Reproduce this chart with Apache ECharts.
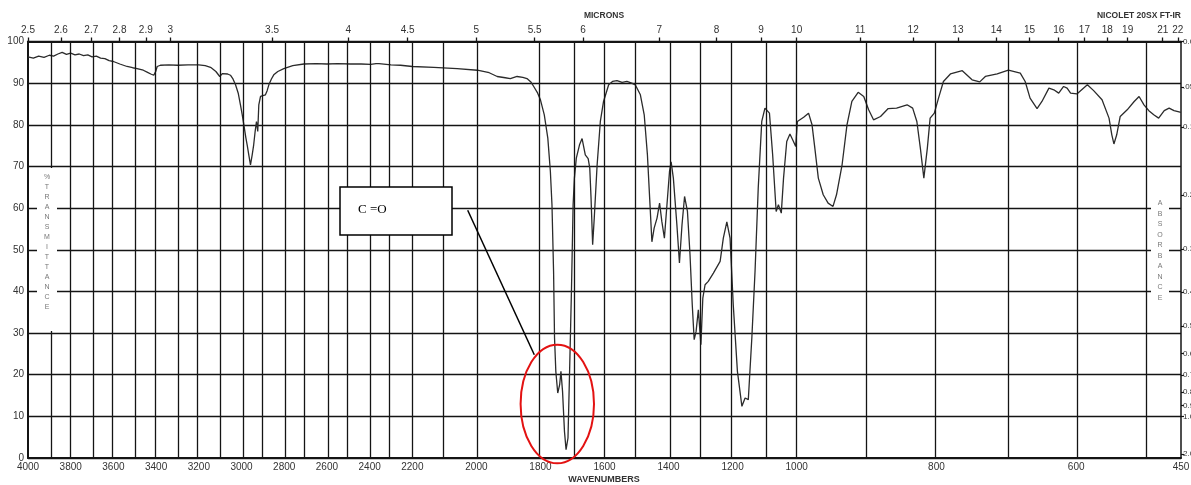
<!DOCTYPE html>
<html>
<head>
<meta charset="utf-8">
<script src="https://cdn.jsdelivr.net/npm/echarts@6/dist/echarts.min.js"></script>
<style>
  html, body { margin: 0; padding: 0; background: #fff; }
  #chart { width: 1191px; height: 485px; }
</style>
</head>
<body>
<div id="chart"></div>
<script>
// IR spectrum: wavenumber (cm-1) and % transmittance
const wavenumbers = [
  4000, 3975, 3950, 3925, 3900, 3880, 3860, 3840, 3820, 3800, 3780, 3760, 3740, 3720, 3700, 3680, 3660, 3640, 3620, 3600,
  3570, 3536, 3510, 3489, 3460, 3440, 3425, 3411, 3402, 3395, 3380, 3340, 3300, 3250, 3200, 3170, 3145, 3120, 3102, 3090,
  3083, 3065, 3052, 3040, 3028, 3015, 3005, 2997, 2989, 2980, 2973, 2965, 2958, 2950, 2943, 2936, 2930, 2924, 2919, 2911,
  2900, 2888, 2880, 2872, 2860, 2849, 2830, 2802, 2760, 2708, 2650, 2600, 2550, 2489, 2440, 2395, 2370, 2364, 2356, 2349,
  2300, 2255, 2200, 2133, 2060, 1997, 1960, 1935, 1910, 1894, 1873, 1855, 1842, 1830, 1821, 1810, 1800, 1788, 1777, 1769,
  1764, 1759, 1756, 1752, 1746, 1740, 1736, 1731, 1725, 1720, 1714, 1709, 1703, 1698, 1694, 1688, 1678, 1670, 1660, 1651,
  1646, 1642, 1637, 1632, 1623, 1613, 1603, 1587, 1575, 1561, 1545, 1530, 1515, 1504, 1488, 1476, 1466, 1459, 1452, 1445,
  1436, 1428, 1421, 1413, 1405, 1397, 1392, 1385, 1374, 1366, 1358, 1350, 1341, 1333, 1326, 1320, 1314, 1307, 1299, 1293,
  1286, 1276, 1260, 1239, 1229, 1218, 1208, 1198, 1185, 1171, 1161, 1151, 1140, 1130, 1120, 1109, 1099, 1085, 1075, 1064,
  1057, 1048, 1041, 1031, 1021, 1010, 1003, 999, 990, 983, 978, 974, 969, 962, 955, 948, 943, 935, 928, 921,
  912, 904, 897, 890, 880, 869, 857, 842, 834, 828, 823, 818, 813, 809, 803, 797, 790, 780, 763, 749,
  738, 730, 713, 697, 680, 673, 666, 656, 649, 639, 632, 625, 618, 613, 608, 599, 584, 575, 563, 553,
  549, 546, 542, 537, 527, 517, 510, 503, 496, 489, 482, 474, 467, 460, 450
];
const transmittance = [
  96.3, 96.0, 96.5, 96.2, 96.7, 96.5, 97.0, 97.4, 96.9, 97.2, 96.8, 97.0, 96.6, 96.8, 96.3, 96.5, 96.0, 95.9, 95.4, 95.2,
  94.6, 94.0, 93.7, 93.5, 93.1, 92.6, 92.2, 91.9, 92.8, 94.0, 94.3, 94.4, 94.3, 94.4, 94.4, 94.2, 93.8, 92.8, 91.6, 92.3,
  92.4, 92.2, 91.9, 91.0, 89.6, 87.5, 84.8, 82.5, 80.0, 77.0, 75.0, 72.5, 70.4, 72.8, 75.2, 78.5, 80.8, 78.4, 84.8, 86.8,
  87.0, 87.2, 88.2, 89.6, 91.0, 92.0, 92.8, 93.5, 94.2, 94.6, 94.7, 94.6, 94.7, 94.6, 94.6, 94.5, 94.7, 95.1, 94.7, 94.4,
  94.4, 94.3, 94.0, 93.8, 93.5, 93.1, 92.5, 91.6, 91.3, 91.1, 91.6, 91.4, 91.1, 90.3, 89.2, 87.8, 86.0, 82.4, 76.8, 68.8,
  60.8, 44.8, 28.8, 20.8, 15.6, 17.6, 20.8, 16.0, 6.4, 2.0, 4.8, 20.8, 40.8, 60.8, 67.2, 72.0, 75.2, 76.7, 72.8, 71.9,
  69.6, 62.4, 51.2, 57.6, 70.4, 80.8, 85.6, 89.6, 90.4, 90.6, 90.2, 90.4, 90.0, 89.6, 87.2, 82.4, 72.8, 62.4, 51.9, 55.2,
  57.6, 61.2, 56.8, 52.8, 60.8, 68.8, 71.1, 67.2, 56.0, 46.8, 56.0, 62.8, 59.2, 48.8, 36.8, 28.4, 30.4, 35.6, 27.2, 38.4,
  41.6, 42.4, 44.4, 47.2, 52.8, 56.7, 52.8, 36.8, 20.8, 12.4, 14.4, 14.0, 28.8, 44.8, 64.8, 80.8, 84.0, 82.8, 72.8, 59.2,
  60.8, 58.8, 67.2, 76.0, 77.8, 76.0, 74.8, 80.8, 81.8, 82.8, 80.0, 74.4, 67.2, 63.2, 61.2, 60.4, 63.2, 70.4, 80.0, 85.6,
  87.8, 86.8, 83.6, 81.2, 82.0, 83.9, 84.0, 84.8, 84.0, 80.8, 74.4, 67.2, 74.4, 81.6, 82.8, 86.4, 90.4, 92.2, 93.0, 90.8,
  90.3, 91.6, 92.2, 93.1, 92.4, 90.4, 86.4, 83.9, 85.6, 88.8, 88.4, 87.6, 89.2, 88.8, 87.6, 87.4, 89.6, 88.2, 86.0, 81.6,
  77.6, 75.4, 77.6, 82.0, 83.6, 85.6, 86.8, 84.8, 83.4, 82.4, 81.6, 83.4, 84.0, 83.4, 83.0
];

// Axis tick values
const wavenumberLabels = [4000, 3800, 3600, 3400, 3200, 3000, 2800, 2600, 2400, 2200, 2000, 1800, 1600, 1400, 1200, 1000, 800, 600, 450];
const gridWavenumbers = [
  3900, 3800, 3700, 3600, 3500, 3400, 3300, 3200, 3100, 3000, 2900, 2800, 2700, 2600, 2500, 2400, 2300, 2200,
  2100, 2000, 1800, 1700, 1600, 1500, 1400, 1300, 1200, 1100, 1000, 900, 800, 700, 600, 500
];
const micronTicks = [2.5, 2.6, 2.7, 2.8, 2.9, 3, 3.5, 4, 4.5, 5, 5.5, 6, 7, 8, 9, 10, 11, 12, 13, 14, 15, 16, 17, 18, 19, 21, 22];
const absorbanceTicks = [0, 0.05, 0.1, 0.2, 0.3, 0.4, 0.5, 0.6, 0.7, 0.8, 0.9, 1.0, 2.0];
const absorbanceLabels = ['0.0', '.05', '0.1', '0.2', '0.3', '0.4', '0.5', '0.6', '0.7', '0.8', '0.9', '1.0', '2.0'];

// Piecewise-linear wavenumber scale: 4000-2200, 2200-1000 and 1000-450 each fill one third of the width
const SEGMENTS = [[4000, 2200], [2200, 1000], [1000, 450]];
function toAxis(wn) {
  for (let i = 0; i < SEGMENTS.length; i++) {
    const [hi, lo] = SEGMENTS[i];
    if (wn >= lo || i === SEGMENTS.length - 1) return i + (hi - wn) / (hi - lo);
  }
}
const absToT = a => 100 * Math.pow(10, -a);
function nearestIndex(list, value, map) {
  let best = 0, dist = Infinity;
  list.forEach((v, i) => { const d = Math.abs(map(v) - value); if (d < dist) { dist = d; best = i; } });
  return best;
}

const FONT = '"Liberation Sans", Arial, sans-serif';
const INK = '#141414';
const TEXT = '#333';

const chart = echarts.init(document.getElementById('chart'), null, { renderer: 'canvas' });

const option = {
  animation: false,
  backgroundColor: '#fff',
  grid: { left: 28, top: 41.5, width: 1153, height: 416.5, show: false, containLabel: false, outerBoundsMode: 'none' },
  xAxis: [
    {
      type: 'value', position: 'bottom', min: 0, max: 3,
      axisLine: { show: true, onZero: false, lineStyle: { color: INK, width: 2 } },
      axisTick: { show: false },
      splitLine: { show: false },
      axisLabel: {
        customValues: wavenumberLabels.map(toAxis),
        formatter: v => String(wavenumberLabels[nearestIndex(wavenumberLabels, v, toAxis)]),
        color: TEXT, fontSize: 10, fontFamily: FONT, margin: 4, hideOverlap: false
      }
    },
    {
      type: 'value', position: 'top', min: 0, max: 3,
      axisLine: { show: true, onZero: false, lineStyle: { color: INK, width: 2 } },
      axisTick: {
        show: true, inside: false, length: 4,
        customValues: micronTicks.map(m => toAxis(10000 / m)),
        lineStyle: { color: INK, width: 1.3 }
      },
      splitLine: { show: false },
      axisLabel: {
        customValues: micronTicks.map(m => toAxis(10000 / m)),
        formatter: v => String(micronTicks[nearestIndex(micronTicks, v, m => toAxis(10000 / m))]),
        color: TEXT, fontSize: 10, fontFamily: FONT, margin: 6, hideOverlap: false
      }
    }
  ],
  yAxis: [
    {
      type: 'value', min: 0, max: 100, interval: 10,
      axisLine: { show: true, onZero: false, lineStyle: { color: INK, width: 2 } },
      axisTick: { show: false },
      splitLine: { show: true, lineStyle: { color: INK, width: 1.3 } },
      axisLabel: { color: TEXT, fontSize: 10, fontFamily: FONT, margin: 4 }
    },
    {
      type: 'value', position: 'right', min: 0, max: 100,
      axisLine: { show: true, onZero: false, lineStyle: { color: INK, width: 1.5 } },
      axisTick: {
        show: true, inside: false, length: 3,
        customValues: absorbanceTicks.map(absToT),
        lineStyle: { color: INK, width: 1.2 }
      },
      splitLine: { show: false },
      axisLabel: {
        customValues: absorbanceTicks.map(absToT),
        formatter: v => absorbanceLabels[nearestIndex(absorbanceTicks, v, absToT)],
        color: TEXT, fontSize: 8, fontFamily: FONT, margin: 2, hideOverlap: false
      }
    }
  ],
  series: [
    {
      // vertical grid lines at every 100 cm-1
      name: 'grid', type: 'line', data: [], silent: true, z: 1,
      markLine: {
        silent: true, symbol: ['none', 'none'], animation: false,
        label: { show: false },
        lineStyle: { color: INK, width: 1.3, type: 'solid' },
        emphasis: { disabled: true },
        data: gridWavenumbers.map(w => ({ xAxis: toAxis(w) }))
      }
    },
    {
      name: 'spectrum', type: 'line', z: 3,
      showSymbol: false, symbol: 'none',
      lineStyle: { color: '#2b2b2b', width: 1.3 },
      data: wavenumbers.map((w, i) => [toAxis(w), transmittance[i]])
    }
  ],
  graphic: [
    { type: 'text', x: 604, y: 15.5, z: 60,
      style: { text: 'MICRONS', font: 'bold 8.5px ' + FONT, fill: TEXT, align: 'center', verticalAlign: 'middle' } },
    { type: 'text', x: 1181, y: 15.5, z: 60,
      style: { text: 'NICOLET 20SX FT-IR', font: 'bold 8.5px ' + FONT, fill: TEXT, align: 'right', verticalAlign: 'middle' } },
    { type: 'text', x: 604, y: 480, z: 60,
      style: { text: 'WAVENUMBERS', font: 'bold 9px ' + FONT, fill: TEXT, align: 'center', verticalAlign: 'middle' } },

    // stacked axis names on white panels
    { type: 'rect', z: 50, shape: { x: 37, y: 168, width: 20, height: 163 }, style: { fill: '#fff' } },
    { type: 'text', x: 47, y: 172, z: 51,
      style: { text: '%TRANSMITTANCE'.split('').join('\n'), font: '7px ' + FONT, fill: '#777',
               align: 'center', verticalAlign: 'top', lineHeight: 10 } },
    { type: 'rect', z: 50, shape: { x: 1151, y: 196, width: 18, height: 108 }, style: { fill: '#fff' } },
    { type: 'text', x: 1160, y: 198, z: 51,
      style: { text: 'ABSORBANCE'.split('').join('\n'), font: '7px ' + FONT, fill: '#777',
               align: 'center', verticalAlign: 'top', lineHeight: 10.5 } },

    // carbonyl call-out
    { type: 'rect', z: 60, shape: { x: 340, y: 187, width: 112, height: 48 },
      style: { fill: '#fff', stroke: '#000', lineWidth: 1.5 } },
    { type: 'text', x: 358, y: 210, z: 61,
      style: { text: 'C =O', font: '13px "Liberation Serif", "Times New Roman", serif', fill: '#000',
               align: 'left', verticalAlign: 'middle' } },
    { type: 'line', z: 60, shape: { x1: 467.7, y1: 210.3, x2: 534.3, y2: 354.7 },
      style: { stroke: '#000', lineWidth: 1.5 } },
    { type: 'ellipse', z: 60, shape: { cx: 557.3, cy: 404, rx: 36.7, ry: 59.3 },
      style: { fill: 'none', stroke: '#e31212', lineWidth: 2 } }
  ]
};

chart.setOption(option);
</script>
</body>
</html>
